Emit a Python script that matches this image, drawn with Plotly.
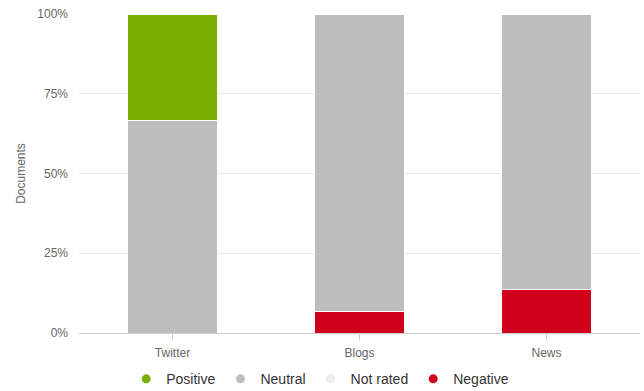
import plotly.graph_objects as go

categories = ["Twitter", "Blogs", "News"]
positive = [33.3, 0, 0]
neutral = [66.7, 93.4, 86.4]
not_rated = [0, 0, 0]
negative = [0, 6.6, 13.6]
y_ticks = [0, 25, 50, 75, 100]
y_tick_labels = ["0%", "25%", "50%", "75%", "100%"]

series = [
    ("Positive", positive, "#77b000"),
    ("Neutral", neutral, "#bdbdbd"),
    ("Not rated", not_rated, "#ececec"),
    ("Negative", negative, "#d0021b"),
]

fig = go.Figure()
# stacked bars (bottom first)
for name, vals, color in reversed(series):
    fig.add_trace(go.Bar(
        x=categories, y=vals, name=name, showlegend=False,
        marker=dict(color=color, line=dict(color="white", width=1)),
        hovertemplate="%{x}: %{y}%<extra>" + name + "</extra>",
    ))
# legend entries with circle markers
for name, vals, color in series:
    fig.add_trace(go.Scatter(
        x=[None], y=[None], mode="markers", name=name,
        marker=dict(color=color, size=9, symbol="circle"),
    ))

fig.update_layout(
    width=644, height=391,
    barmode="stack", bargap=0.52,
    margin=dict(l=79, r=4, t=14, b=58, autoexpand=False),
    plot_bgcolor="white", paper_bgcolor="white",
    font=dict(family="Liberation Sans, Arial, sans-serif", color="#666666", size=12),
    legend=dict(
        orientation="h", x=0.43, xanchor="center", y=-0.145, yanchor="middle",
        font=dict(size=14, color="#333333"), traceorder="normal",
        itemwidth=30,
    ),
    xaxis=dict(
        showgrid=False, showline=True, linecolor="#cccccc", linewidth=1,
        ticks="outside", ticklen=6, tickcolor="#cccccc",
        tickfont=dict(size=12, color="#666666"), ticklabelstandoff=3,
    ),
    yaxis=dict(
        range=[0, 100], tickvals=y_ticks, ticktext=y_tick_labels,
        showgrid=True, gridcolor="#e6e6e6", gridwidth=1,
        zeroline=False, showline=False, ticks="", ticklabelstandoff=10,
        title=dict(text="Documents", font=dict(size=12, color="#666666"), standoff=9),
        tickfont=dict(size=12, color="#666666"),
    ),
)

fig.write_html("out.html")
